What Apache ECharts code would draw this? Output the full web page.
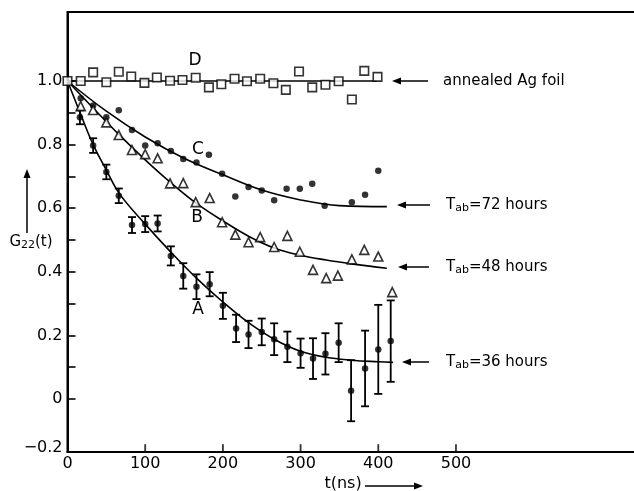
<!DOCTYPE html>
<html>
<head>
<meta charset="utf-8">
<script src="https://cdn.jsdelivr.net/npm/echarts@6/dist/echarts.min.js"></script>
<style>
html,body{margin:0;padding:0;background:#fff;}
#c{width:634px;height:491px;}
</style>
</head>
<body>
<div id="c"></div>
<script>
// ---- data ----
var xTickValues = [100, 200, 300, 400, 500];
var xLabelMax = 500;
var yTickValues = [0, 0.1, 0.2, 0.3, 0.4, 0.5, 0.6, 0.7, 0.8, 0.9, 1.0];
var yLabelValues = [-0.155, 0, 0.2, 0.4, 0.6, 0.8, 1.0];

// D: annealed Ag foil (squares)
var tD = [0,17,33,50,66,82,99,115,132,148,165,182,198,215,231,248,265,281,298,315,332,349,366,382,399];
var gD = [1.0,1.0,1.027,0.996,1.029,1.014,0.994,1.011,1.001,1.003,1.010,0.980,0.990,1.007,0.999,1.007,0.993,0.972,1.030,0.980,0.988,0.999,0.942,1.032,1.013];
// C: Tab = 72 hours (filled dots)
var tC = [17,33,50,66,83,100,116,133,149,166,182,199,216,233,250,266,282,299,315,331,366,383,400];
var gC = [0.946,0.923,0.886,0.908,0.846,0.797,0.804,0.780,0.755,0.744,0.768,0.708,0.637,0.667,0.656,0.625,0.661,0.661,0.677,0.608,0.619,0.642,0.718];
// B: Tab = 48 hours (triangles)
var tB = [17,33,50,66,83,100,116,132,149,165,183,199,216,233,248,266,283,299,316,333,348,366,382,400,418];
var gB = [0.921,0.909,0.870,0.830,0.783,0.770,0.757,0.678,0.679,0.619,0.632,0.556,0.517,0.493,0.509,0.478,0.513,0.463,0.406,0.380,0.388,0.439,0.469,0.448,0.336];
// A: Tab = 36 hours (dots with error bars)
var tA = [16,33,50,66,83,100,116,133,149,166,183,200,217,233,250,266,283,300,316,332,349,365,383,400,416];
var gA = [0.886,0.797,0.714,0.639,0.547,0.550,0.552,0.450,0.387,0.353,0.361,0.293,0.222,0.203,0.211,0.188,0.164,0.144,0.127,0.142,0.177,0.026,0.096,0.156,0.182];
var eA = [0.022,0.023,0.023,0.023,0.025,0.025,0.025,0.030,0.040,0.039,0.038,0.041,0.043,0.043,0.042,0.050,0.048,0.046,0.064,0.065,0.061,0.096,0.119,0.140,0.128];

// fitted curves
var fitDt = [0, 398];
var fitDg = [1.0, 1.0];
var fitCt = [0,50,100,150,200,250,300,350,411];
var fitCg = [1.0,0.905,0.824,0.757,0.705,0.657,0.626,0.608,0.605];
var fitBt = [0,33,66,100,133,166,200,233,266,300,333,366,411];
var fitBg = [1.0,0.915,0.832,0.752,0.680,0.615,0.560,0.512,0.475,0.452,0.437,0.425,0.411];
var fitAt = [0,17,33,50,67,100,133,166,200,233,266,300,333,366,400,419];
var fitAg = [1.0,0.895,0.800,0.720,0.645,0.550,0.462,0.380,0.305,0.240,0.188,0.150,0.131,0.122,0.117,0.115];

var curveLetters = ['D','C','B','A'];
var sideLabels = ['annealed Ag foil', '72', '48', '36'];

function zip(a, b){ return a.map(function(v,i){ return [v, b[i]]; }); }

var FONT = 'DejaVu Sans';
var YMIN = -0.1667, YMAX = 1.217;
var chart = echarts.init(document.getElementById('c'), null, {renderer:'canvas'});

var errData = tA.map(function(t,i){ return [t, gA[i]-eA[i], gA[i]+eA[i]]; });
// tick marks sit half a tick length above the bottom axis
var tickMarkData = xTickValues.map(function(v){ return [v, YMIN + 0.012]; });

function arrowLeft(x1, x2, y){
  return {type:'group', children:[
    {type:'line', shape:{x1:x1+5, y1:y, x2:x2, y2:y}, style:{stroke:'#000', lineWidth:1.5}},
    {type:'polygon', shape:{points:[[x1,y],[x1+9,y-3.5],[x1+9,y+3.5]]}, style:{fill:'#000'}}
  ]};
}

var richT = {
  a:{fontFamily:FONT, fontSize:15, color:'#000'},
  b:{fontFamily:FONT, fontSize:11, color:'#000', padding:[7,0,0,0]}
};

var option = {
  animation:false,
  backgroundColor:'#fff',
  grid:{left:67.5, top:12, right:-3, bottom:39, show:true, borderColor:'#000', borderWidth:2, outerBoundsMode:'none'},
  xAxis:{
    type:'value', min:0, max:733, interval:100,
    axisLine:{show:true, onZero:false, lineStyle:{color:'#000', width:2}},
    splitLine:{show:false},
    axisTick:{show:false},
    axisLabel:{margin:4, color:'#000', fontFamily:FONT, fontSize:16, showMaxLabel:false,
      formatter:function(v){ return v <= xLabelMax ? String(v) : ''; }}
  },
  yAxis:{
    type:'value', min:YMIN, max:YMAX,
    axisLine:{show:true, onZero:false, lineStyle:{color:'#000', width:2}},
    splitLine:{show:false},
    axisTick:{show:true, inside:true, length:8, customValues:yTickValues, lineStyle:{color:'#000', width:1.6}},
    axisLabel:{customValues:yLabelValues, margin:5, color:'#000', fontFamily:FONT, fontSize:16,
      formatter:function(v){ if (v < -0.1) return '\u22120.2'; if (Math.abs(v) < 1e-9) return '0'; return v.toFixed(1); }}
  },
  series:[
    // inside tick marks on the bottom axis
    {type:'scatter', data:tickMarkData, symbol:'rect', symbolSize:[1.8, 8], clip:false, silent:true,
      itemStyle:{color:'#000'}, z:10},
    {type:'line', data:zip(fitDt,fitDg), showSymbol:false, smooth:false, lineStyle:{color:'#000', width:1.5}, z:2},
    {type:'line', data:zip(fitCt,fitCg), showSymbol:false, smooth:0.4, lineStyle:{color:'#000', width:1.6}, z:2},
    {type:'line', data:zip(fitBt,fitBg), showSymbol:false, smooth:0.4, lineStyle:{color:'#000', width:1.6}, z:2},
    {type:'line', data:zip(fitAt,fitAg), showSymbol:false, smooth:0.4, lineStyle:{color:'#000', width:1.6}, z:2},
    {type:'custom', data:errData, z:3,
      renderItem:function(params, api){
        var x = api.value(0), lo = api.value(1), hi = api.value(2);
        var p1 = api.coord([x, lo]), p2 = api.coord([x, hi]);
        var st = {stroke:'#000', lineWidth:1.8};
        return {type:'group', children:[
          {type:'line', shape:{x1:p1[0], y1:p1[1], x2:p2[0], y2:p2[1]}, style:st},
          {type:'line', shape:{x1:p1[0]-4, y1:p1[1], x2:p1[0]+4, y2:p1[1]}, style:st},
          {type:'line', shape:{x1:p2[0]-4, y1:p2[1], x2:p2[0]+4, y2:p2[1]}, style:st}
        ]};
      }},
    {type:'scatter', data:zip(tD,gD), symbol:'rect', symbolSize:8.5, itemStyle:{color:'#fff', borderColor:'#000', borderWidth:1.6}, z:4},
    {type:'scatter', data:zip(tC,gC), symbol:'circle', symbolSize:6.5, itemStyle:{color:'#000'}, z:4},
    {type:'scatter', data:zip(tB,gB), symbol:'triangle', symbolSize:9, itemStyle:{color:'#fff', borderColor:'#000', borderWidth:1.6}, z:4},
    {type:'scatter', data:zip(tA,gA), symbol:'circle', symbolSize:6.5, itemStyle:{color:'#000'}, z:5}
  ],
  graphic:[
    {type:'text', x:195, y:61, style:{text:curveLetters[0], font:'17px "DejaVu Sans"', fill:'#000', align:'center', verticalAlign:'middle'}},
    {type:'text', x:198, y:150, style:{text:curveLetters[1], font:'17px "DejaVu Sans"', fill:'#000', align:'center', verticalAlign:'middle'}},
    {type:'text', x:197, y:218, style:{text:curveLetters[2], font:'17px "DejaVu Sans"', fill:'#000', align:'center', verticalAlign:'middle'}},
    {type:'text', x:198, y:310, style:{text:curveLetters[3], font:'17px "DejaVu Sans"', fill:'#000', align:'center', verticalAlign:'middle'}},
    arrowLeft(392, 428, 81),
    arrowLeft(397, 430, 205),
    arrowLeft(398, 429, 267),
    arrowLeft(402, 429, 362),
    {type:'text', x:443, y:81, style:{text:sideLabels[0], font:'15px "DejaVu Sans"', fill:'#000', align:'left', verticalAlign:'middle'}},
    {type:'text', x:446, y:205, style:{text:'{a|T}{b|ab}{a|=' + sideLabels[1] + ' hours}', rich:richT, align:'left', verticalAlign:'middle'}},
    {type:'text', x:446, y:267, style:{text:'{a|T}{b|ab}{a|=' + sideLabels[2] + ' hours}', rich:richT, align:'left', verticalAlign:'middle'}},
    {type:'text', x:446, y:362, style:{text:'{a|T}{b|ab}{a|=' + sideLabels[3] + ' hours}', rich:richT, align:'left', verticalAlign:'middle'}},
    {type:'text', x:31, y:242, style:{text:'{a|G}{b|22}{a|(t)}', rich:{
      a:{fontFamily:FONT, fontSize:15, color:'#000'},
      b:{fontFamily:FONT, fontSize:11, color:'#000', padding:[7,0,0,0]}}, align:'center', verticalAlign:'middle'}},
    {type:'line', shape:{x1:27, y1:233, x2:27, y2:176}, style:{stroke:'#000', lineWidth:1.5}},
    {type:'polygon', shape:{points:[[27,169],[23.5,178],[30.5,178]]}, style:{fill:'#000'}},
    {type:'text', x:343, y:484, style:{text:'t(ns)', font:'16px "DejaVu Sans"', fill:'#000', align:'center', verticalAlign:'middle'}},
    {type:'line', shape:{x1:365, y1:486, x2:416, y2:486}, style:{stroke:'#000', lineWidth:1.5}},
    {type:'polygon', shape:{points:[[423,486],[414,482.5],[414,489.5]]}, style:{fill:'#000'}}
  ]
};
chart.setOption(option);
</script>
</body>
</html>
